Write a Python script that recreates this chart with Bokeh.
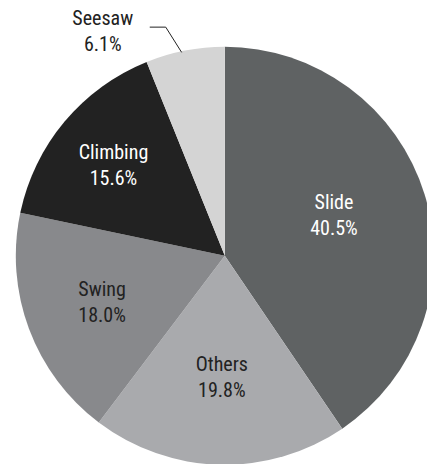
import math
from bokeh.plotting import figure
from bokeh.models import Range1d, ColumnDataSource
from bokeh.core.properties import value
from bokeh.embed import file_html
from bokeh.resources import INLINE

# Playground equipment shares, clockwise from 12 o'clock
categories = ["Slide", "Others", "Swing", "Climbing", "Seesaw"]
shares = [40.5, 19.8, 18.0, 15.6, 6.1]
fill_colors = ["#5f6263", "#a9aaad", "#88898c", "#222222", "#d4d4d4"]
label_colors = ["#ffffff", "#222222", "#222222", "#ffffff", "#222222"]

W, H = 427, 464
CX, CY, R = 224.3, H - 255.3, 209.0
FONT = "Roboto Condensed"

# label placement: fraction of radius and small angular nudge (degrees)
label_rfrac = [0.56, 0.575, 0.625, 0.69]
label_nudge = [4.0, 0.0, -0.5, 0.5]

total = sum(shares)
starts, ends, mids = [], [], []
a = 90.0
for s in shares:
    sweep = 360.0 * s / total
    starts.append(math.radians(a))
    ends.append(math.radians(a - sweep))
    mids.append(a - sweep / 2)
    a -= sweep

p = figure(width=W, height=H, output_backend="svg", toolbar_location=None,
           x_range=Range1d(0, W), y_range=Range1d(0, H),
           min_border=0, outline_line_color=None)
p.axis.visible = False
p.grid.visible = False
p.background_fill_color = "white"
p.border_fill_color = "white"

src = ColumnDataSource(dict(start=starts, end=ends, color=fill_colors))
p.wedge(x=CX, y=CY, radius=R, start_angle="start", end_angle="end",
        direction="clock", fill_color="color", line_color=None, source=src)

# inside labels
lx, ly, names, pcts, cols = [], [], [], [], []
for i in range(4):
    ang = math.radians(mids[i] + label_nudge[i])
    r = R * label_rfrac[i]
    lx.append(CX + r * math.cos(ang))
    ly.append(CY + r * math.sin(ang))
    names.append(categories[i])
    pcts.append(f"{shares[i]:.1f}%")
    cols.append(label_colors[i])

lsrc = ColumnDataSource(dict(x=lx, y=ly, name=names, pct=pcts, col=cols))
p.text(x="x", y="y", text="name", source=lsrc, y_offset=-12,
       text_align="center", text_baseline="middle", text_color="col",
       text_font=value(FONT), text_font_size="20px")
p.text(x="x", y="y", text="pct", source=lsrc, y_offset=14,
       text_align="center", text_baseline="middle", text_color="col",
       text_font=value(FONT), text_font_size="20px")

# outside label for the smallest slice with a leader line
k = 4
ma = math.radians(mids[k] + 1.0)
x0, y0 = CX + R * 0.995 * math.cos(ma), CY + R * 0.995 * math.sin(ma)
ma2 = math.radians(mids[k] + 3.5)
x1, y1 = CX + R * 1.13 * math.cos(ma2), CY + R * 1.13 * math.sin(ma2)
x2, y2 = x1 - 16, y1
p.line(x=[x0, x1, x2], y=[y0, y1, y2], line_color="#222222", line_width=1)

tx = x2 - 47
p.text(x=[tx], y=[y2], text=[categories[k]], y_offset=-9,
       text_align="center", text_baseline="middle", text_color=label_colors[k],
       text_font=value(FONT), text_font_size="20px")
p.text(x=[tx], y=[y2], text=[f"{shares[k]:.1f}%"], y_offset=17,
       text_align="center", text_baseline="middle", text_color=label_colors[k],
       text_font=value(FONT), text_font_size="20px")

open("out.html", "w").write(file_html(p, INLINE))
